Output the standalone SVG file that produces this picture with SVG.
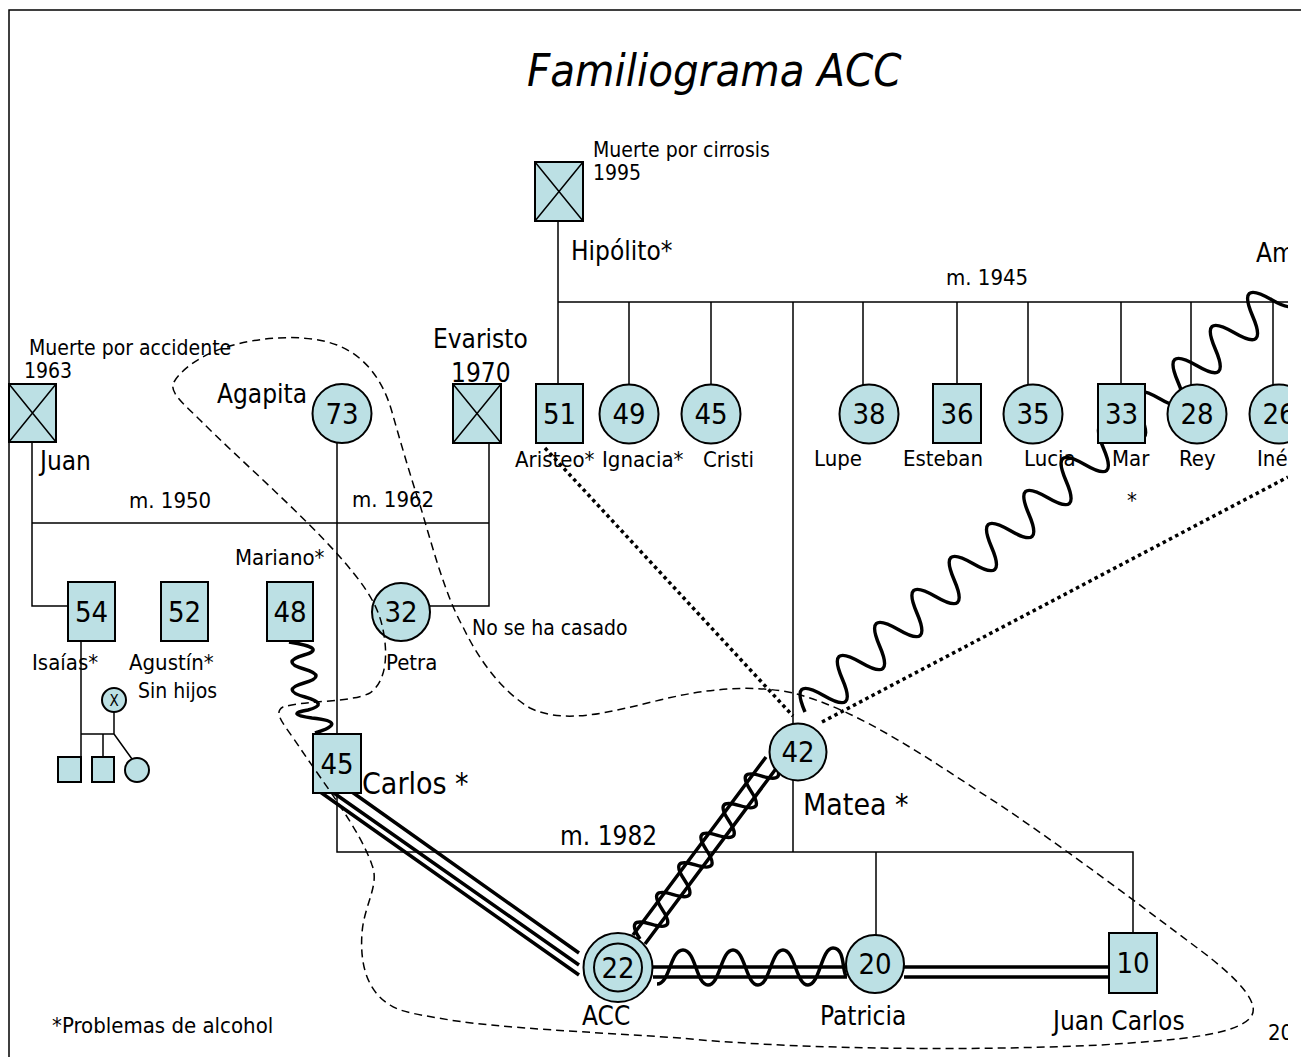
<svg xmlns="http://www.w3.org/2000/svg" width="1301" height="1057" viewBox="0 0 1301 1057">
<style>
.n{fill:#BCE0E4;stroke:#000;stroke-width:2}
.l{stroke:#000;stroke-width:1.5;fill:none}
.x{stroke:#000;stroke-width:1.5}
text{font-family:"DejaVu Sans Condensed","DejaVu Sans",sans-serif;fill:#000}
.num{font-size:29px;text-anchor:middle}
.lab{font-size:22px}
.big{font-size:26px}
.note{font-size:21px}
.huge{font-size:30px}
.thick{stroke:#000;stroke-width:3.5;fill:none}
.dot{stroke:#000;stroke-width:3.5;stroke-dasharray:3.5 3.5;fill:none}
.dash{stroke:#000;stroke-width:1.5;stroke-dasharray:8 5;fill:none}
</style>
<defs>
<clipPath id="c"><rect x="0" y="0" width="1288" height="1057"/></clipPath>
</defs>
<rect width="1301" height="1057" fill="#fff"/>
<path d="M9,1057 V10 H1301" class="l" stroke-width="2"/>
<g clip-path="url(#c)">
<text x="527" y="86" font-size="45" font-style="italic">Familiograma ACC</text>

<g id="connectors">
<path class="l" d="M558,221 V384 M558,302 H1300 M629,302 V385 M711,302 V385 M793,302 V852 M863,302 V385 M957,302 V384 M1028,302 V385 M1121,302 V384 M1191,302 V385 M1273,302 V385"/>
<path class="l" d="M32,442 V606 H68 M32,523 H489 M489,443 V606 H430 M337,443 V852 H1133 V933 M876,852 V935"/>
<path class="l" d="M81,641 V757 M81,734 H114 V712 M103,734 V757 M114,734 L132,759"/>
<path class="thick" d="M289,642 Q328,648 304,655 Q280,662 304,669 Q328,676 304,683 Q280,690 305,697 Q330,704 308,710 Q284,714 312,718 Q350,722 315,733"/>
<path class="thick" d="M316,789 L579,975 M331,791 L579,965 M352,792 L579,953"/>
<path class="dot" d="M545,448 L793,716"/>
<path class="dot" d="M822,722 L1288,477"/>
<path class="thick" transform="translate(805,712) rotate(-41.5)" d="M0,0 q12.45,-38 24.9,0 t24.9,0 t24.9,0 t24.9,0 t24.9,0 t24.9,0 t24.9,0 t24.9,0 t24.9,0 t24.9,0 t24.9,0 t24.9,0 t24.9,0 t24.9,0 t24.9,0 t24.9,0 t24.9,0 t24.9,0 t24.9,0 t24.9,0 t24.9,0 t24.9,0 t24.9,0 t24.9,0 t24.9,0 t24.9,0"/>
<path class="thick" d="M633,935 L766,757 M645,944 L778,766"/>
<path class="thick" transform="translate(640,939) rotate(-53.2)" d="M0,0 q9.25,-26 18.5,0 t18.5,0 t18.5,0 t18.5,0 t18.5,0 t18.5,0 t18.5,0 t18.5,0 t18.5,0 t18.5,0 t18.5,0 t18.5,0"/>
<path class="thick" d="M653,967 H847 M653,977 H847 M904,967 H1109 M904,977 H1109"/>
<path class="thick" d="M657,984 C670,984 670,950 683,950 S696,985 708,985 S721,950 733,950 S746,985 758,985 S771,950 783,950 S796,985 808,985 S821,948 833,948 S842,970 846,976"/>
</g>

<g id="hipolito">
<rect class="n" x="535" y="162" width="48" height="59"/>
<path class="x" d="M535,162 L583,221 M583,162 L535,221"/>
<text class="note" x="593" y="157">Muerte por cirrosis</text>
<text class="note" x="593" y="180">1995</text>
<text class="big" x="571" y="260">Hipólito*</text>
<text class="lab" x="946" y="285">m. 1945</text>
</g>
<g id="am"><text class="big" x="1256" y="262">Am</text></g>

<g id="juan">
<rect class="n" x="9" y="384" width="47" height="58"/>
<path class="x" d="M9,384 L56,442 M56,384 L9,442"/>
<text class="note" x="29" y="355">Muerte por accidente</text>
<text class="note" x="24" y="378">1963</text>
<text class="big" x="40" y="470">Juan</text>
<text class="lab" x="129" y="508">m. 1950</text>
</g>
<g id="agapita">
<circle class="n" cx="342" cy="413.5" r="29.5"/>
<text class="num" x="342" y="424">73</text>
<text class="big" x="217" y="403">Agapita</text>
<text class="lab" x="352" y="507">m. 1962</text>
</g>
<g id="evaristo">
<rect class="n" x="453" y="384" width="48" height="59"/>
<path class="x" d="M453,384 L501,443 M501,384 L453,443"/>
<text class="big" x="433" y="348">Evaristo</text>
<text class="big" x="451" y="382">1970</text>
</g>
<g id="aristeo">
<rect class="n" x="536" y="384" width="47" height="59"/>
<text class="num" x="559.5" y="424">51</text>
<text class="lab" x="515" y="467">Aristeo*</text>
</g>
<g id="ignacia">
<circle class="n" cx="629" cy="414" r="29.5"/>
<text class="num" x="629" y="424">49</text>
<text class="lab" x="602" y="467">Ignacia*</text>
</g>
<g id="cristi">
<circle class="n" cx="711" cy="414" r="29.5"/>
<text class="num" x="711" y="424">45</text>
<text class="lab" x="703" y="467">Cristi</text>
</g>
<g id="lupe">
<circle class="n" cx="869" cy="414" r="29.5"/>
<text class="num" x="869" y="424">38</text>
<text class="lab" x="814" y="466">Lupe</text>
</g>
<g id="esteban">
<rect class="n" x="933" y="384" width="48" height="59"/>
<text class="num" x="957" y="424">36</text>
<text class="lab" x="903" y="466">Esteban</text>
</g>
<g id="lucia">
<circle class="n" cx="1033" cy="414" r="29.5"/>
<text class="num" x="1033" y="424">35</text>
<text class="lab" x="1024" y="466">Lucia</text>
</g>
<g id="mar">
<rect class="n" x="1098" y="384" width="47" height="59"/>
<text class="num" x="1121.5" y="424">33</text>
<text class="lab" x="1112" y="466">Mar</text>
<text class="lab" x="1132" y="508" text-anchor="middle">*</text>
</g>
<g id="rey">
<circle class="n" cx="1197" cy="414" r="29.5"/>
<text class="num" x="1197" y="424">28</text>
<text class="lab" x="1179" y="466">Rey</text>
</g>
<g id="ines">
<circle class="n" cx="1279" cy="414" r="29.5"/>
<text class="num" x="1279" y="424">26</text>
<text class="lab" x="1257" y="466">Iné</text>
</g>

<g id="isaias">
<rect class="n" x="68" y="582" width="47" height="59"/>
<text class="num" x="91.5" y="622">54</text>
<text class="lab" x="32" y="670">Isaías*</text>
</g>
<g id="isaias-family">
<circle class="n" cx="114" cy="700" r="12" stroke-width="1.5"/>
<text x="114" y="706" font-family="'Liberation Serif',serif" font-size="15" text-anchor="middle">X</text>
<rect class="n" x="58" y="757" width="23" height="25" stroke-width="1.5"/>
<rect class="n" x="92" y="757" width="22" height="25" stroke-width="1.5"/>
<circle class="n" cx="137" cy="770" r="12" stroke-width="1.5"/>
</g>
<g id="agustin">
<rect class="n" x="161" y="582" width="47" height="59"/>
<text class="num" x="184.5" y="622">52</text>
<text class="lab" x="129" y="670">Agustín*</text>
<text class="note" x="138" y="698" font-size="19">Sin hijos</text>
</g>
<g id="mariano">
<rect class="n" x="267" y="582" width="46" height="59"/>
<text class="num" x="290" y="622">48</text>
<text class="lab" x="235" y="565">Mariano*</text>
</g>
<g id="petra">
<circle class="n" cx="401" cy="612" r="29"/>
<text class="num" x="401" y="622">32</text>
<text class="lab" x="386" y="670">Petra</text>
<text class="note" x="472" y="635">No se ha casado</text>
</g>
<g id="carlos">
<rect class="n" x="313" y="734" width="48" height="59"/>
<text class="num" x="337" y="774">45</text>
<text class="huge" x="362" y="794">Carlos *</text>
<text class="big" x="560" y="845">m. 1982</text>
</g>
<g id="matea">
<circle class="n" cx="798" cy="752" r="28.5"/>
<text class="num" x="798" y="762">42</text>
<text class="huge" x="803" y="815">Matea *</text>
</g>
<g id="acc">
<circle class="n" cx="618" cy="967.5" r="34.5"/>
<circle class="n" cx="618" cy="967.5" r="24" stroke-width="1.5"/>
<text class="num" x="618" y="978">22</text>
<text class="big" x="582" y="1025">ACC</text>
</g>
<g id="patricia">
<circle class="n" cx="875" cy="964" r="29"/>
<text class="num" x="875" y="974">20</text>
<text class="big" x="820" y="1025">Patricia</text>
</g>
<g id="juancarlos">
<rect class="n" x="1109" y="933" width="48" height="60"/>
<text class="num" x="1133" y="973">10</text>
<text class="big" x="1053" y="1030">Juan Carlos</text>
</g>
<g id="legend">
<text class="lab" x="52" y="1033">*Problemas de alcohol</text>
<text class="lab" x="1268" y="1040">20</text>
</g>

<g id="boundary">
<path class="dash" d="M227,347 C258,337 305,333 337,345 C365,356 383,380 392,412 C400,440 410,475 420,505 C432,545 445,595 463,627 C478,658 500,690 530,708 C565,725 610,712 660,700 C705,689 750,684 793,693 C860,710 930,760 1000,805 C1070,852 1140,905 1200,950 C1240,980 1262,1005 1250,1018 C1235,1035 1180,1040 1100,1045 C950,1052 780,1048 680,1038 C590,1032 500,1028 450,1020 C420,1015 400,1012 390,1005 C365,990 360,960 362,933 C364,905 380,885 372,865 C360,830 325,785 300,748 C285,725 272,713 283,707 C305,700 350,703 370,693 C388,680 388,650 382,625 C376,600 360,580 340,557 C300,512 240,460 200,420 C185,405 168,392 174,382 C182,368 205,353 227,347 Z"/>
</g>
</g>
</svg>
